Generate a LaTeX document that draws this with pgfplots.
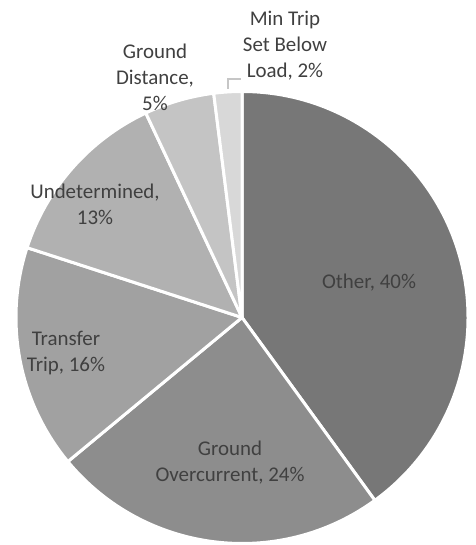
\documentclass[border=0pt]{standalone}
\usepackage{pgfplots}
\usepackage{pgfplotstable}
\pgfplotsset{compat=1.18}
\usepackage{fontspec}
\setmainfont{Carlito}
\definecolor{sOther}{HTML}{777777}
\definecolor{sGO}{HTML}{8D8D8D}
\definecolor{sTT}{HTML}{A1A1A1}
\definecolor{sUD}{HTML}{B1B1B1}
\definecolor{sGD}{HTML}{C4C4C4}
\definecolor{sMT}{HTML}{D8D8D8}
\definecolor{txt}{HTML}{404040}
\pgfplotstableread{
value
40
24
16
13
5
2
}\piedata
\begin{document}
\begin{tikzpicture}
\begin{axis}[
  hide axis, disabledatascaling,
  x=1bp, y=1bp,
  xmin=0, xmax=476, ymin=0, ymax=545,
  clip=false,
]
\coordinate (ll) at (axis cs:0,0);
\coordinate (ur) at (axis cs:476,545);
\pgfplotsextra{
  \gdef\cur{90}
  \foreach \i/\col in {0/sOther,1/sGO,2/sTT,3/sUD,4/sGD,5/sMT} {
    \pgfplotstablegetelem{\i}{value}\of\piedata
    \pgfmathsetmacro\endang{\cur-3.6*\pgfplotsretval}
    \fill[\col, draw=white, line width=3bp, line join=round]
      (axis cs:242,227.5) -- ++(\cur:226bp)
      arc[start angle=\cur, end angle=\endang, radius=226bp] -- cycle;
    \xdef\cur{\endang}
  }
  \draw[color=sMT!80!gray, line width=1.2bp] (axis cs:228,456) -- (axis cs:228,466) -- (axis cs:241,466);
}
\begin{scope}[every node/.style={text=txt, align=center, font=\fontsize{21}{26}\selectfont}]
\node at (axis cs:285,499) {Min Trip\\Set Below\\Load, 2\%};
\node at (axis cs:155,468) {Ground\\Distance,\\5\%};
\node at (axis cs:95,340.5) {Undetermined,\\13\%};
\node at (axis cs:369,262) {Other, 40\%};
\node at (axis cs:66,192) {Transfer\\Trip, 16\%};
\node at (axis cs:230,82) {Ground\\Overcurrent, 24\%};
\end{scope}
\end{axis}
\pgfresetboundingbox
\useasboundingbox (ll) rectangle (ur);
\end{tikzpicture}
\end{document}
